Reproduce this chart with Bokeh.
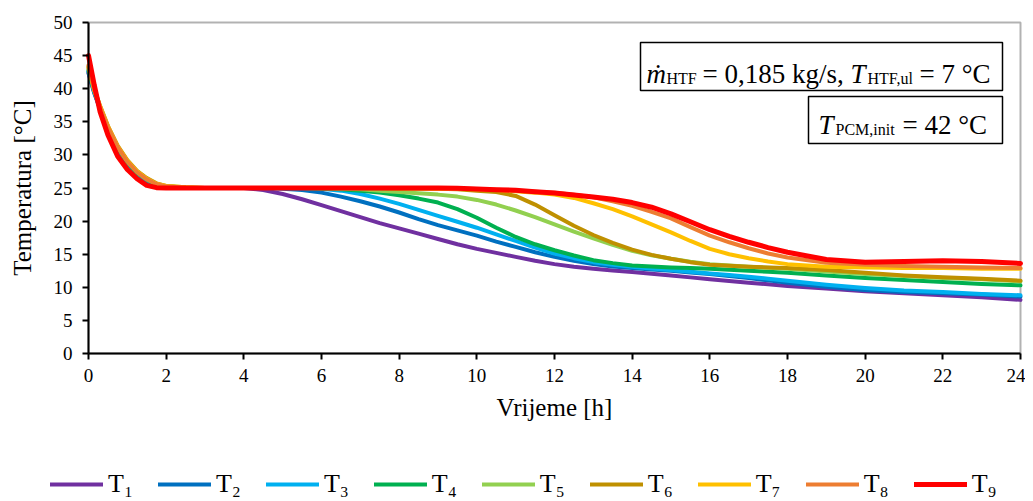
from bokeh.plotting import figure
from bokeh.models import (Range1d, Legend, LegendItem, BoxAnnotation, Label,
                          FixedTicker)
from bokeh.embed import file_html
from bokeh.resources import INLINE

# ---------------- data ----------------
time_h = [0, 0.15, 0.3, 0.5, 0.75, 1, 1.25, 1.5, 1.75, 2, 2.5, 3,
          4, 4.5, 5, 5.5, 6, 6.5, 7, 7.5, 8, 8.5, 9, 9.5, 10, 10.5, 11, 11.5,
          12, 12.5, 13, 13.5, 14, 14.5, 15, 15.5, 16, 16.5, 17, 17.5, 18,
          19, 20, 21, 22, 23, 24]

T1 = [42.3, 39.3, 36.9, 33.9, 30.9, 28.7, 27.1, 26.1, 25.4, 25.15, 25.0, 25.0,
      25.0, 24.7, 24.1, 23.3, 22.4, 21.5, 20.6, 19.7, 18.9, 18.1, 17.3, 16.5, 15.8, 15.2, 14.6, 14.0,
      13.5, 13.1, 12.8, 12.55, 12.3, 12.05, 11.8, 11.5, 11.2, 10.95, 10.7, 10.45, 10.2,
      9.8, 9.4, 9.1, 8.8, 8.5, 8.1]
T2 = [42.5, 39.4, 36.95, 33.95, 30.95, 28.75, 27.15, 26.15, 25.45, 25.2, 25.05, 25.0,
      25.0, 25.0, 24.9, 24.7, 24.3, 23.7, 23.0, 22.2, 21.3, 20.3, 19.4, 18.6, 17.8, 16.9, 16.1, 15.3,
      14.6, 14.0, 13.5, 13.15, 12.9, 12.7, 12.5, 12.25, 12.0, 11.7, 11.4, 11.05, 10.7,
      10.1, 9.6, 9.3, 9.1, 8.9, 8.6]
T3 = [42.6, 39.5, 37.0, 34.0, 31.0, 28.8, 27.2, 26.2, 25.5, 25.2, 25.05, 25.0,
      25.0, 25.0, 25.0, 25.0, 24.9, 24.6, 24.1, 23.4, 22.6, 21.7, 20.8, 19.9, 19.0, 18.0, 17.0, 16.0,
      15.1, 14.4, 13.8, 13.4, 13.1, 12.85, 12.6, 12.35, 12.1, 11.85, 11.6, 11.3, 11.0,
      10.4, 9.9, 9.5, 9.3, 9.0, 8.8]
T4 = [42.8, 39.6, 37.1, 34.1, 31.1, 28.9, 27.3, 26.3, 25.55, 25.25, 25.05, 25.0,
      25.0, 25.0, 25.0, 25.0, 24.9, 24.8, 24.6, 24.3, 23.9, 23.4, 22.8, 21.8, 20.5, 19.0, 17.6, 16.5,
      15.6, 14.8, 14.1, 13.65, 13.3, 13.15, 13.0, 12.9, 12.8, 12.65, 12.5, 12.35, 12.2,
      11.8, 11.4, 11.1, 10.8, 10.5, 10.3]
T5 = [43.0, 39.7, 37.2, 34.2, 31.2, 29.0, 27.4, 26.35, 25.6, 25.25, 25.05, 25.0,
      25.0, 25.0, 25.0, 25.0, 24.95, 24.9, 24.8, 24.6, 24.4, 24.2, 24.0, 23.7, 23.2, 22.5, 21.6, 20.6,
      19.5, 18.4, 17.4, 16.4, 15.5, 14.85, 14.3, 13.85, 13.5, 13.3, 13.1, 12.95, 12.8,
      12.4, 12.0, 11.7, 11.4, 11.2, 10.9]
T6 = [43.2, 39.9, 37.4, 34.4, 31.4, 29.2, 27.6, 26.5, 25.7, 25.3, 25.1, 25.0,
      25.0, 25.0, 25.0, 25.0, 25.0, 25.0, 24.95, 24.95, 24.9, 24.9, 24.9, 24.8, 24.6, 24.4, 23.8, 22.5,
      20.9, 19.3, 17.9, 16.7, 15.7, 14.9, 14.3, 13.8, 13.4, 13.25, 13.1, 13.0, 12.9,
      12.6, 12.2, 11.8, 11.5, 11.3, 11.0]
T7 = [43.3, 39.8, 37.3, 34.3, 31.3, 29.1, 27.5, 26.4, 25.65, 25.3, 25.1, 25.0,
      25.0, 25.0, 25.0, 25.0, 25.0, 25.0, 25.0, 25.0, 24.95, 24.95, 24.9, 24.85, 24.8, 24.7, 24.5, 24.3,
      24.0, 23.5, 22.7, 21.8, 20.7, 19.5, 18.3, 17.0, 15.8, 15.0, 14.4, 13.9, 13.5,
      13.1, 13.0, 12.9, 12.9, 12.8, 12.8]
T8 = [43.5, 39.8, 37.2, 34.2, 31.2, 29.0, 27.4, 26.3, 25.6, 25.25, 25.05, 25.0,
      25.0, 25.0, 25.0, 25.0, 25.0, 25.0, 25.0, 25.0, 25.0, 25.0, 24.95, 24.9, 24.85, 24.75, 24.6, 24.45,
      24.3, 24.0, 23.6, 23.0, 22.3, 21.4, 20.4, 19.1, 17.8, 16.8, 15.9, 15.1, 14.5,
      13.7, 13.4, 13.2, 13.1, 13.0, 12.9]
T9 = [45.0, 40.5, 36.5, 33.0, 29.8, 27.8, 26.4, 25.4, 25.05, 25.0, 25.0, 25.0,
      25.0, 25.0, 25.0, 25.0, 25.0, 25.0, 25.0, 25.0, 25.0, 25.0, 25.0, 24.95, 24.85, 24.75, 24.65, 24.45,
      24.25, 23.95, 23.65, 23.3, 22.8, 22.1, 21.1, 19.9, 18.7, 17.7, 16.8, 16.0, 15.3,
      14.2, 13.8, 13.9, 14.0, 13.9, 13.6]

series_names = ["T\u2081", "T\u2082", "T\u2083", "T\u2084", "T\u2085",
                "T\u2086", "T\u2087", "T\u2088", "T\u2089"]
series_values = [T1, T2, T3, T4, T5, T6, T7, T8, T9]
series_colors = ["#7030A0", "#0070C0", "#00B0F0", "#00B050", "#92D050",
                 "#BF9000", "#FFC000", "#ED7D31", "#FF0000"]

x_ticks = list(range(0, 25, 2))
y_ticks = list(range(0, 51, 5))

FONT = "Liberation Serif"

# ---------------- geometry (page pixels of the plot box) ----------------
W, H = 1025, 501
BOX_L, BOX_R, BOX_T, BOX_B = 88, 1020, 22, 353
X0, X1, Y0, Y1 = 0, 24, 0, 50
sx = (BOX_R - BOX_L) / (X1 - X0)
sy = (BOX_B - BOX_T) / (Y1 - Y0)

def hx(px):  # page pixel -> hours
    return X0 + (px - BOX_L) / sx

def ty(py):  # page pixel -> temperature
    return Y0 + (BOX_B - py) / sy

p = figure(width=W, height=H, output_backend="svg", toolbar_location=None,
           x_range=Range1d(hx(0), hx(W)), y_range=Range1d(ty(H), ty(0)),
           min_border=0)
p.background_fill_color = "white"
p.border_fill_color = "white"
p.outline_line_color = None
p.xgrid.visible = False
p.ygrid.visible = False

for ax in (p.xaxis, p.yaxis):
    ax.axis_line_color = "black"
    ax.axis_line_width = 2
    ax.major_tick_line_color = "black"
    ax.major_tick_line_width = 2
    ax.major_tick_out = 6
    ax.major_tick_in = 0
    ax.minor_tick_line_color = None
    ax.major_label_text_font = FONT
    ax.major_label_text_font_size = "19px"
    ax.major_label_text_color = "black"
    ax.axis_label_text_font = FONT
    ax.axis_label_text_font_size = "25px"
    ax.axis_label_text_font_style = "normal"
    ax.axis_label_text_color = "black"

p.xaxis.fixed_location = Y0
p.yaxis.fixed_location = X0
p.xaxis.bounds = (X0, X1)
p.yaxis.bounds = (Y0, Y1)
p.xaxis.ticker = FixedTicker(ticks=x_ticks)
p.yaxis.ticker = FixedTicker(ticks=y_ticks)
p.xaxis.axis_label = "Vrijeme [h]"
p.yaxis.axis_label = "Temperatura [°C]"
p.xaxis.major_label_standoff = 9
p.yaxis.major_label_standoff = 10
p.xaxis.axis_label_standoff = 9
p.yaxis.axis_label_standoff = 15

# plot box outline
p.add_layout(BoxAnnotation(left=X0, right=X1, bottom=Y0, top=Y1,
                           fill_alpha=0, line_color="black", line_width=2,
                           level="underlay"))

items = []
for name, vals, col in zip(series_names, series_values, series_colors):
    lw = 5 if col == "#FF0000" else 4
    r = p.line(time_h, vals, line_color=col, line_width=lw,
               line_cap="round", line_join="round")
    items.append(LegendItem(label=name, renderers=[r]))

legend = Legend(items=items, orientation="horizontal",
                location=(50, H - 489 - 10),
                glyph_width=53, glyph_height=20, label_standoff=5, spacing=25,
                padding=0, margin=0, border_line_alpha=0,
                background_fill_alpha=0,
                label_text_font=FONT, label_text_font_size="26px",
                label_text_color="black", label_height=20)
p.add_layout(legend)

# ---------------- annotation boxes ----------------
p.add_layout(BoxAnnotation(left=hx(640), right=hx(1002), top=ty(42), bottom=ty(90),
                           fill_color="white", fill_alpha=1.0,
                           line_color="black", line_width=1.5, line_alpha=1.0))
p.add_layout(BoxAnnotation(left=hx(808), right=hx(1002), top=ty(96), bottom=ty(143),
                           fill_color="white", fill_alpha=1.0,
                           line_color="black", line_width=1.5, line_alpha=1.0))

def piece(px, py, text, size, style="normal"):
    p.add_layout(Label(x=hx(px), y=ty(py), text=text, text_font=FONT,
                       text_font_size=size, text_font_style=style,
                       text_color="black", text_baseline="alphabetic",
                       text_align="left"))

# box 1: m_HTF = 0,185 kg/s, T_HTF,ul = 7 °C
piece(646, 73, "ṁ", "27px", "italic")
piece(666, 78, "HTF", "16px")
piece(702, 73, "= 0,185 kg/s,", "27px")
piece(850, 73, "T", "27px", "italic")
piece(867, 78, "HTF,ul", "16px")
piece(919, 73, "= 7 °C", "27px")

# box 2: T_PCM,init = 42 °C
piece(818, 124, "T", "27px", "italic")
piece(835, 129, "PCM,init", "16px")
piece(902, 124, "= 42 °C", "27px")

open("out.html", "w").write(file_html(p, INLINE))
